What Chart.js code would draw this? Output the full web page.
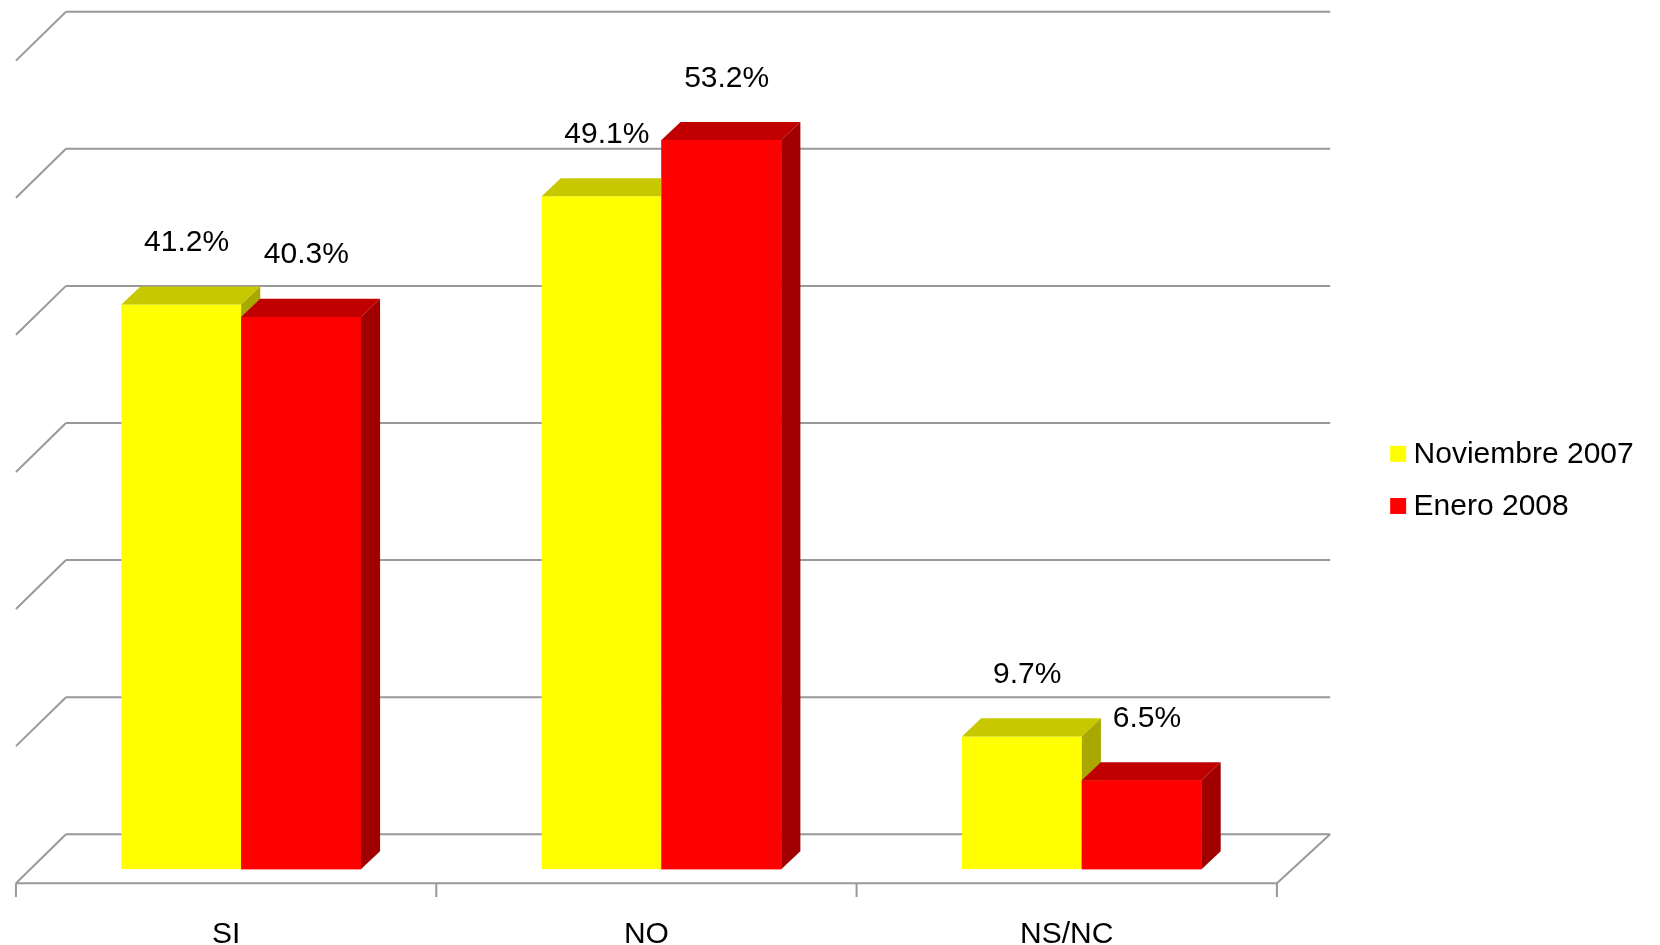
<!DOCTYPE html>
<html>
<head>
<meta charset="utf-8">
<script src="https://cdn.jsdelivr.net/npm/chart.js@4.4.1/dist/chart.umd.min.js"></script>
<style>
  html, body { margin: 0; background: #fff; }
  #wrap { width: 1660px; height: 945px; }
</style>
</head>
<body>
<div id="wrap"><canvas id="c"></canvas></div>
<script>
const categories = ['SI', 'NO', 'NS/NC'];
const nov2007 = [41.2, 49.1, 9.7];
const ene2008 = [40.3, 53.2, 6.5];
const seriesNames = ['Noviembre 2007', 'Enero 2008'];
const gridValues = [0, 10, 20, 30, 40, 50, 60];

const faces = [
  { front: '#FFFF00', top: '#C8C800', side: '#A8A800' },
  { front: '#FF0000', top: '#C00000', side: '#A00000' }
];
const K = 1660 / 1560;
const FONT = '30px "Liberation Sans", Arial, sans-serif';

const WALL_DX = 47 * K, WALL_DY = -33 * K;
const BAR_DX = 18 * K, BAR_DY = -17 * K;
const SHIFT = 15; // bars sit slightly right of the category centre (depth)

function drawBar(ctx, bar, f, withFront) {
  const l = bar.x - bar.width / 2 + SHIFT, r = bar.x + bar.width / 2 + SHIFT;
  const t = bar.y, b = bar.base;
  if (withFront) {
    ctx.fillStyle = f.front;
    ctx.fillRect(l, t, r - l, b - t);
  }
  ctx.fillStyle = f.top;
  ctx.beginPath();
  ctx.moveTo(l, t);
  ctx.lineTo(l + BAR_DX, t + BAR_DY);
  ctx.lineTo(r + BAR_DX, t + BAR_DY);
  ctx.lineTo(r, t);
  ctx.closePath();
  ctx.fill();
  ctx.fillStyle = f.side;
  ctx.beginPath();
  ctx.moveTo(r, t);
  ctx.lineTo(r + BAR_DX, t + BAR_DY);
  ctx.lineTo(r + BAR_DX, b + BAR_DY);
  ctx.lineTo(r, b);
  ctx.closePath();
  ctx.fill();
}

const threeD = {
  id: 'threeD',
  beforeDatasetsDraw(chart) {
    const { ctx, chartArea: a, scales: { y } } = chart;
    ctx.save();
    ctx.strokeStyle = '#999';
    ctx.lineWidth = 2;
    const frontY = y.getPixelForValue(0) + 13 * K;
    gridValues.forEach(v => {
      const gy = y.getPixelForValue(v) + WALL_DY;
      ctx.beginPath();
      ctx.moveTo(a.left + WALL_DX, gy);
      ctx.lineTo(a.right + 50 * K, gy);
      ctx.stroke();
      ctx.beginPath();
      ctx.moveTo(a.left + WALL_DX, gy);
      ctx.lineTo(a.left, gy + 46 * K);
      ctx.stroke();
    });
    ctx.beginPath();
    ctx.moveTo(a.left, frontY);
    ctx.lineTo(a.right, frontY);
    ctx.lineTo(a.right + 50 * K, y.getPixelForValue(0) + WALL_DY);
    ctx.stroke();
    const n = categories.length;
    const step = (a.right - a.left) / n;
    for (let i = 0; i <= n; i++) {
      const tx = a.left + step * i;
      ctx.beginPath();
      ctx.moveTo(tx, frontY);
      ctx.lineTo(tx, frontY + 13 * K);
      ctx.stroke();
    }
    ctx.restore();
  },
  beforeDatasetDraw(chart) {
    chart.ctx.save();
    chart.ctx.translate(SHIFT, 0);
  },
  afterDatasetDraw(chart) {
    chart.ctx.restore();
  },
  afterDatasetsDraw(chart) {
    const { ctx, scales: { x } } = chart;
    ctx.save();
    const m0 = chart.getDatasetMeta(0), m1 = chart.getDatasetMeta(1);
    categories.forEach((c, i) => {
      drawBar(ctx, m0.data[i], faces[0], false);
      drawBar(ctx, m1.data[i], faces[1], true);
    });
    ctx.fillStyle = '#000';
    ctx.font = FONT;
    ctx.textAlign = 'center';
    ctx.textBaseline = 'middle';
    [m0, m1].forEach((meta, di) => {
      meta.data.forEach((bar, i) => {
        const v = chart.data.datasets[di].data[i];
        ctx.fillText(v.toFixed(1) + '%', bar.x + SHIFT + 5 * K, bar.y - 58 * K);
      });
    });
    categories.forEach((c, i) => ctx.fillText(c, x.getPixelForValue(i), 878 * K));
    ctx.textAlign = 'left';
    seriesNames.forEach((s, i) => {
      const ly = (427 + i * 49) * K;
      ctx.fillStyle = faces[i].front;
      ctx.fillRect(1313 * K - 7, ly - 8 * K, 15 * K, 15 * K);
      ctx.fillStyle = '#000';
      ctx.fillText(s, 1335 * K - 7, ly);
    });
    ctx.restore();
  }
};

new Chart(document.getElementById('c'), {
  type: 'bar',
  data: {
    labels: categories,
    datasets: [
      { label: seriesNames[0], data: nov2007, backgroundColor: faces[0].front },
      { label: seriesNames[1], data: ene2008, backgroundColor: faces[1].front }
    ]
  },
  options: {
    responsive: true,
    maintainAspectRatio: false,
    animation: false,
    layout: { padding: { left: 15 * K, right: 1660 - 1200 * K, top: 44 * K, bottom: 945 - 817 * K } },
    datasets: { bar: { categoryPercentage: 0.57, barPercentage: 1.0 } },
    plugins: { legend: { display: false }, tooltip: { enabled: false } },
    scales: {
      x: { display: false },
      y: { display: false, min: 0, max: 60 }
    }
  },
  plugins: [threeD]
});
</script>
</body>
</html>
